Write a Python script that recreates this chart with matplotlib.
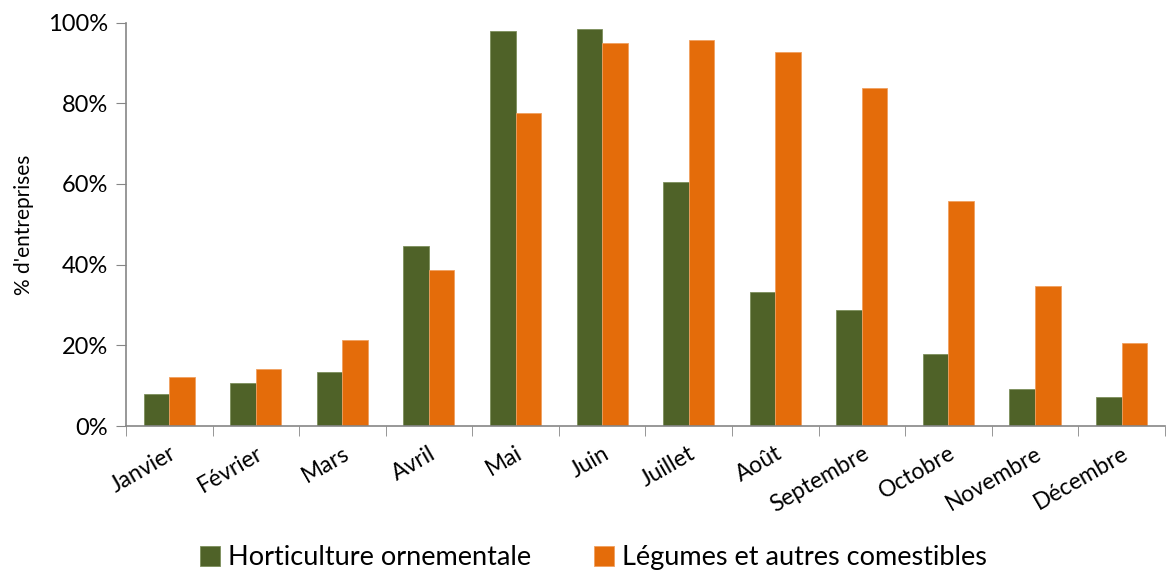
import numpy as np
import matplotlib.pyplot as plt
from matplotlib.ticker import FixedLocator, PercentFormatter

months = ["Janvier", "Février", "Mars", "Avril", "Mai", "Juin", "Juillet",
          "Août", "Septembre", "Octobre", "Novembre", "Décembre"]
horticulture = [7.9, 10.6, 13.4, 44.6, 97.8, 98.5, 60.6, 33.2, 28.7, 17.8, 9.2, 7.2]
legumes = [12.1, 14.1, 21.3, 38.6, 77.7, 95.0, 95.8, 92.6, 83.7, 55.9, 34.7, 20.5]
series_names = ["Horticulture ornementale", "Légumes et autres comestibles"]

plt.rcParams["font.family"] = ["Lato", "DejaVu Sans"]

fig = plt.figure(figsize=(11.66, 5.8), dpi=100)
ax = fig.add_axes([0.108, 0.2655, 0.891, 0.6955])

x = np.arange(len(months))
w = 0.295
ax.bar(x - w / 2, horticulture, w, color="#4F6228", edgecolor="#7d8f5c", linewidth=0.6,
       label=series_names[0])
ax.bar(x + w / 2, legumes, w, color="#E46C0A", edgecolor="#f0a060", linewidth=0.6,
       label=series_names[1])

ax.set_xlim(-0.5, len(months) - 0.5)
ax.set_ylim(0, 100)
ax.yaxis.set_major_locator(FixedLocator([0, 20, 40, 60, 80, 100]))
ax.yaxis.set_major_formatter(PercentFormatter(decimals=0))

for side in ["top", "right"]:
    ax.spines[side].set_visible(False)
for side in ["left", "bottom"]:
    ax.spines[side].set_color("#868686")
    ax.spines[side].set_linewidth(1.2)

ax.tick_params(axis="y", direction="out", length=7, color="#868686", labelsize=17, pad=6)
ax.set_xticks(x)
ax.set_xticklabels(months, rotation=30, ha="right", rotation_mode="anchor", fontsize=16.5)
ax.tick_params(axis="x", length=0, pad=12)
ax.set_xticks(np.arange(-0.5, len(months) + 0.5, 1), minor=True)
ax.tick_params(axis="x", which="minor", direction="out", length=7, color="#868686")

ax.set_ylabel("% d'entreprises", fontsize=15, labelpad=10)

ax.legend(loc="upper center", bbox_to_anchor=(0.45, -0.235), ncol=2, frameon=False,
          fontsize=19.5, handlelength=0.75, handleheight=0.75, handletextpad=0.3,
          columnspacing=2.3)

fig.savefig("out.png", dpi=100)
